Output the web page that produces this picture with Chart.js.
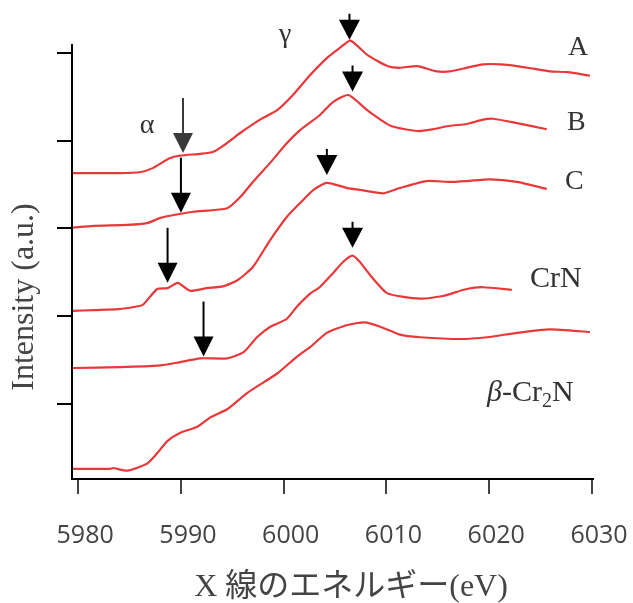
<!DOCTYPE html>
<html>
<head>
<meta charset="utf-8">
<script src="https://cdn.jsdelivr.net/npm/chart.js@4.4.0/dist/chart.umd.min.js"></script>
<style>
  html, body { margin: 0; padding: 0; background: #fff; }
</style>
</head>
<body>
<canvas id="canvas-1" width="633" height="603"></canvas>
<script>
'use strict';

// X-ray energy (eV) and intensity (a.u., already offset) for each spectrum
var energyA = [5979.5, 5984.1, 5986.0, 5987.3, 5988.9, 5989.9, 5991.9, 5993.1, 5994.1, 5995.8, 5997.7, 5999.4, 6000.9, 6002.6, 6004.2, 6005.5, 6006.5, 6008.1, 6010.1, 6011.3, 6013.0, 6014.9, 6016.2, 6017.8, 6019.4, 6021.1, 6022.7, 6024.3, 6025.9, 6027.6, 6029.8];
var intensityA = [3.63, 3.63, 3.64, 3.69, 3.80, 3.83, 3.85, 3.87, 3.94, 4.09, 4.24, 4.35, 4.52, 4.75, 4.94, 5.06, 5.14, 4.98, 4.85, 4.83, 4.85, 4.79, 4.79, 4.83, 4.87, 4.87, 4.85, 4.82, 4.79, 4.78, 4.74];

var energyB = [5979.5, 5981.5, 5984.8, 5986.7, 5988.0, 5989.2, 5991.2, 5994.5, 5995.8, 5997.0, 5998.7, 6000.3, 6001.6, 6003.5, 6004.8, 6006.3, 6008.1, 6010.4, 6013.0, 6014.5, 6016.2, 6017.8, 6019.4, 6020.4, 6022.7, 6025.6];
var intensityB = [3.01, 3.03, 3.04, 3.06, 3.12, 3.15, 3.19, 3.23, 3.36, 3.53, 3.75, 3.97, 4.12, 4.29, 4.44, 4.52, 4.35, 4.17, 4.11, 4.13, 4.17, 4.19, 4.24, 4.25, 4.20, 4.13];

var energyC = [5979.5, 5981.5, 5983.9, 5985.7, 5986.3, 5987.7, 5988.7, 5989.7, 5990.9, 5992.5, 5994.1, 5995.5, 5997.0, 5998.7, 6000.3, 6001.6, 6002.9, 6004.2, 6006.2, 6007.4, 6009.7, 6011.3, 6013.9, 6016.2, 6017.8, 6020.1, 6022.7, 6025.6];
var intensityC = [2.06, 2.07, 2.08, 2.11, 2.13, 2.31, 2.32, 2.38, 2.29, 2.32, 2.34, 2.41, 2.56, 2.87, 3.13, 3.29, 3.44, 3.52, 3.46, 3.44, 3.40, 3.46, 3.54, 3.53, 3.54, 3.56, 3.53, 3.45];

var energyCrN = [5979.5, 5984.1, 5988.0, 5989.6, 5991.9, 5994.5, 5996.1, 5997.4, 5998.7, 6000.3, 6001.3, 6002.6, 6003.5, 6004.8, 6005.8, 6006.7, 6007.4, 6008.4, 6010.1, 6013.3, 6015.5, 6017.8, 6019.4, 6022.2];
var intensityCrN = [1.41, 1.42, 1.44, 1.47, 1.52, 1.52, 1.59, 1.76, 1.88, 1.97, 2.11, 2.26, 2.33, 2.49, 2.62, 2.69, 2.62, 2.47, 2.26, 2.20, 2.23, 2.31, 2.33, 2.30];

var energyBeta = [5979.5, 5983.1, 5983.4, 5984.8, 5986.7, 5987.7, 5988.7, 5989.9, 5991.6, 5992.9, 5994.5, 5996.5, 5999.4, 6001.3, 6002.6, 6004.2, 6006.2, 6007.9, 6009.4, 6011.3, 6013.3, 6017.2, 6019.8, 6022.7, 6025.9, 6029.8];
var intensityBeta = [0.26, 0.26, 0.27, 0.24, 0.32, 0.44, 0.58, 0.67, 0.74, 0.85, 0.94, 1.13, 1.35, 1.54, 1.65, 1.81, 1.90, 1.93, 1.88, 1.79, 1.76, 1.74, 1.76, 1.81, 1.85, 1.82];

var xTicks = [5980, 5990, 6000, 6010, 6020, 6030];
var yTicks = [1, 2, 3, 4, 5];

// arrow tips: alpha (pre-edge) and gamma (main peak)
var alphaEnergy = [5990.2, 5990.0, 5988.7, 5992.2];
var alphaIntensity = [3.86, 3.18, 2.38, 1.54];
var gammaEnergy = [6006.4, 6006.7, 6004.2, 6006.7];
var gammaIntensity = [5.15, 4.56, 3.61, 2.78];

var red = 'rgb(232, 56, 58)';

function pts(xs, ys) {
  return xs.map(function(x, i){ return { x: x, y: ys[i] }; });
}

function spectrum(label, xs, ys) {
  return {
    label: label,
    data: pts(xs, ys),
    borderColor: red,
    backgroundColor: red,
    borderWidth: 2.2,
    pointRadius: 0,
    tension: 0.2,
    fill: false,
    clip: false
  };
}

function drawArrow(c, x, tipY, stem, w, h, color) {
  c.save();
  c.strokeStyle = color;
  c.fillStyle = color;
  c.lineWidth = 2;
  c.beginPath();
  c.moveTo(x, tipY - stem);
  c.lineTo(x, tipY - h + 1);
  c.stroke();
  c.beginPath();
  c.moveTo(x - w / 2, tipY - h);
  c.lineTo(x + w / 2, tipY - h);
  c.lineTo(x, tipY);
  c.closePath();
  c.fill();
  c.restore();
}

var serif = '"Liberation Serif", "Times New Roman", serif';

var annotate = {
  id: 'annotate',
  afterDatasetsDraw: function(chart) {
    var c = chart.ctx;
    var xs = chart.scales.x, ys = chart.scales.y;
    var i;
    for (i = 0; i < alphaEnergy.length; i++) {
      drawArrow(c, xs.getPixelForValue(alphaEnergy[i]), ys.getPixelForValue(alphaIntensity[i]), 55, 20, 20, i === 0 ? '#3a3a3a' : '#000');
    }
    for (i = 0; i < gammaEnergy.length; i++) {
      drawArrow(c, xs.getPixelForValue(gammaEnergy[i]), ys.getPixelForValue(gammaIntensity[i]), 26, 21, 20, '#000');
    }

    c.save();
    c.fillStyle = '#333';
    c.textBaseline = 'alphabetic';
    function put(text, e, v, size, align) {
      c.font = size + 'px ' + serif;
      c.textAlign = align;
      c.fillText(text, xs.getPixelForValue(e), ys.getPixelForValue(v));
    }
    put('γ', 6000.14, 5.125, 28, 'center');
    put('α', 5986.71, 4.088, 28, 'center');
    put('A', 6027.67, 4.977, 28, 'left');
    put('B', 6027.57, 4.122, 28, 'left');
    put('C', 6027.37, 3.45, 28, 'left');
    put('CrN', 6023.97, 2.333, 30, 'left');

    // β-Cr2N with italic beta and subscript 2
    var bx = xs.getPixelForValue(6019.79), by = ys.getPixelForValue(1.034);
    c.textAlign = 'left';
    c.font = 'italic 30px ' + serif;
    c.fillText('β', bx, by); bx += c.measureText('β').width;
    c.font = '30px ' + serif;
    c.fillText('-Cr', bx, by); bx += c.measureText('-Cr').width;
    c.font = '20px ' + serif;
    c.fillText('2', bx, by + 6); bx += c.measureText('2').width;
    c.font = '30px ' + serif;
    c.fillText('N', bx, by);

    // axis titles
    c.fillStyle = '#444';
    c.font = '32px ' + serif + ', "Noto Sans CJK JP"';
    c.textAlign = 'center';
    c.fillText('X 線のエネルギー(eV)', 351, 596);
    c.translate(33, 297);
    c.rotate(-Math.PI / 2);
    c.font = '32px ' + serif;
    c.fillText('Intensity (a.u.)', 0, 0);
    c.restore();
  }
};

var ctx = document.getElementById('canvas-1');
var chart = new Chart(ctx, {
  type: 'line',
  data: {
    datasets: [
      spectrum('A', energyA, intensityA),
      spectrum('B', energyB, intensityB),
      spectrum('C', energyC, intensityC),
      spectrum('CrN', energyCrN, intensityCrN),
      spectrum('β-Cr2N', energyBeta, intensityBeta)
    ]
  },
  options: {
    responsive: false,
    animation: false,
    devicePixelRatio: 1,
    layout: { padding: { top: 45, right: 40, left: 0, bottom: 0 } },
    plugins: {
      legend: { display: false },
      tooltip: { enabled: false }
    },
    scales: {
      x: {
        type: 'linear',
        min: 5979.4,
        max: 6030.1,
        afterBuildTicks: function(s){ s.ticks = xTicks.map(function(v){ return { value: v }; }); },
        afterFit: function(s){ s.height = 124; s.paddingLeft = 0; s.paddingRight = 0; },
        grid: { drawOnChartArea: false, drawTicks: true, tickLength: 15, color: '#444', lineWidth: 2 },
        border: { color: '#000', width: 2 },
        ticks: {
          color: '#444',
          font: { family: '"Open Sans"', size: 25 },
          padding: 27,
          labelOffset: 7,
          autoSkip: false,
          maxRotation: 0,
          callback: function(v){ return String(v); }
        }
      },
      y: {
        type: 'linear',
        min: 0.145,
        max: 5.09,
        afterBuildTicks: function(s){ s.ticks = yTicks.map(function(v){ return { value: v }; }); },
        afterFit: function(s){ s.width = 72; s.paddingTop = 0; s.paddingBottom = 0; },
        grid: { drawOnChartArea: false, drawTicks: true, tickLength: 15, color: '#000', lineWidth: 2 },
        border: { color: '#000', width: 2 },
        ticks: { display: false }
      }
    }
  },
  plugins: [annotate]
});
</script>
</body>
</html>
